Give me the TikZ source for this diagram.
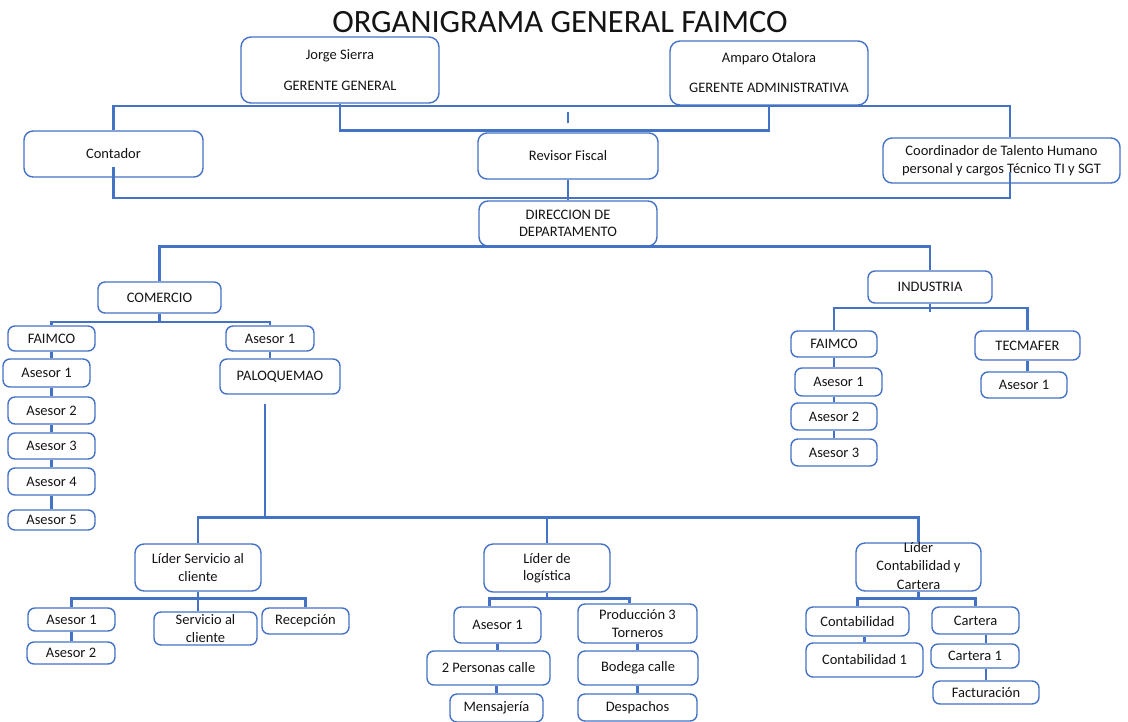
\documentclass[tikz,border=0pt]{standalone}
\usepackage{fontspec}
\setmainfont{Carlito}
\definecolor{azul}{RGB}{68,114,196}
\definecolor{texto}{RGB}{20,20,20}
\begin{document}
\begin{tikzpicture}[x=1pt,y=-1pt,
    caja/.style={draw=azul,line width=1.4pt,rounded corners=7pt,align=center,inner sep=0pt,text=texto,font=\fontsize{14.5}{17.5}\selectfont},
    link/.style={draw=azul,line width=2.9pt},
    sublink/.style={draw=azul,line width=2.2pt}]
\useasboundingbox (0,0) rectangle (1128,721);
\node[text=texto,font=\fontsize{32.5}{36}\selectfont,anchor=base] (titulo) at (560,32) {ORGANIGRAMA GENERAL FAIMCO};

% gerencia
        \node[caja,minimum width=198,minimum height=66,rounded corners=10pt] (jorge) at (340,70) {Jorge Sierra\\[14pt]GERENTE GENERAL};
        \node[caja,minimum width=198,minimum height=64,rounded corners=10pt] (amparo) at (769,73) {Amparo Otalora\\[12.5pt]GERENTE ADMINISTRATIVA};
        \node[caja,minimum width=179,minimum height=46,rounded corners=9pt] (contador) at (113.5,154) {Contador};
        \node[caja,minimum width=180,minimum height=46,rounded corners=9pt] (revisor) at (568,156) {Revisor Fiscal};
        \node[caja,minimum width=237,minimum height=45,rounded corners=9pt] (coord) at (1001.5,160.5) {Coordinador de Talento Humano\\personal y cargos Técnico TI y SGT};
        \node[caja,minimum width=178,minimum height=45,rounded corners=9pt] (direccion) at (568,223.5) {DIRECCION DE\\DEPARTAMENTO};
        \coordinate (derTop) at (1010,106);
        \coordinate (derLow) at (1010,198);
        \draw [link] (contador.north) |- (derTop) -- (derTop |- coord.north);
        \draw [link] (jorge.south) -- ++(0,27) -| (amparo.south);
        \draw [link] ([yshift=9pt]revisor.north) -- ([yshift=20pt]revisor.north);
        \draw [link] ([yshift=-13pt]contador.center) |- (derLow) -- ++(0,-26);
        \draw [link] (revisor.south) -- (direccion.north);

% comercio
        \node[caja,minimum width=123,minimum height=31] (comercio) at (159.5,297.5) {COMERCIO};
        \node[caja,minimum width=87,minimum height=25] (faimcoC) at (51.5,338.5) {FAIMCO};
        \node[caja,minimum width=88,minimum height=25] (asesorC) at (270,338.5) {Asesor 1};
        \node[caja,minimum width=120,minimum height=35] (paloquemao) at (280,376.5) {PALOQUEMAO};
        \node[caja,minimum width=87,minimum height=28] (ac1) at (46.5,373) {Asesor 1};
        \node[caja,minimum width=87,minimum height=27] (ac2) at (51.5,410.5) {Asesor 2};
        \node[caja,minimum width=87,minimum height=26] (ac3) at (51.5,446) {Asesor 3};
        \node[caja,minimum width=87,minimum height=27] (ac4) at (51.5,481.5) {Asesor 4};
        \node[caja,minimum width=87,minimum height=20] (ac5) at (51.5,520) {Asesor 5};
        \draw [sublink] (comercio.south) -- ++(0,8) coordinate (comBus);
        \draw [sublink] (faimcoC.north) |- (comBus) -| (asesorC.north);
        \draw [sublink] (asesorC.south) -- (asesorC.south |- paloquemao.north);
        \foreach \a/\b in {faimcoC/ac1,ac1/ac2,ac2/ac3,ac3/ac4,ac4/ac5}
          \draw [sublink] (\a.south -| faimcoC) -- (\b.north -| faimcoC);

% industria
        \node[caja,minimum width=124,minimum height=32] (industria) at (930,287) {INDUSTRIA};
        \node[caja,minimum width=86,minimum height=26] (faimcoI) at (834,344) {FAIMCO};
        \node[caja,minimum width=105,minimum height=29] (tecmafer) at (1027.5,345.5) {TECMAFER};
        \node[caja,minimum width=86,minimum height=26] (atec) at (1024,385) {Asesor 1};
        \node[caja,minimum width=87,minimum height=28] (ai1) at (838.5,382) {Asesor 1};
        \node[caja,minimum width=86,minimum height=27] (ai2) at (834,416.5) {Asesor 2};
        \node[caja,minimum width=86,minimum height=27] (ai3) at (834,452.5) {Asesor 3};
        \draw [link] (comercio.north) |- (direccion.south) -| (industria.north);
        \draw [sublink] (industria.south) -- ++(0,8);
        \draw [sublink] (faimcoI.north) |- ([yshift=-4pt]industria.south) -| (tecmafer.north);
        \foreach \a/\b in {faimcoI/ai1,ai1/ai2,ai2/ai3}
          \draw [sublink] (\a.south -| faimcoI) -- (\b.north -| faimcoI);
        \draw [sublink] (tecmafer.south) -- (tecmafer.south |- atec.north);

% lideres
        \node[caja,minimum width=126,minimum height=47,rounded corners=9pt] (liderSC) at (198,567.5) {Líder Servicio al\\cliente};
        \node[caja,minimum width=126,minimum height=48,rounded corners=9pt] (liderLog) at (547,568) {Líder de\\logística};
        \node[caja,minimum width=125,minimum height=48,rounded corners=9pt] (liderCC) at (918.5,567) {\smash{\raisebox{-4pt}{\begin{tabular}{@{}c@{}}Líder\\[1pt]Contabilidad y\\[1pt]Cartera\end{tabular}}}};
        \coordinate (palo) at ([xshift=-15pt,yshift=-9pt]paloquemao.south);
        \draw [link] (palo) -- ++(0,114) coordinate (mainBus);
        \draw [link] (liderSC.north) |- (mainBus) -| (liderCC.north);
        \draw [link] (mainBus -| liderLog.north) -- (liderLog.north);

% servicio al cliente
        \node[caja,minimum width=87,minimum height=23] (scA1) at (71.5,619.5) {Asesor 1};
        \node[caja,minimum width=88,minimum height=22] (scA2) at (71,653) {Asesor 2};
        \node[caja,minimum width=103,minimum height=33] (servicio) at (205.5,628.5) {Servicio al\\cliente};
        \node[caja,minimum width=87,minimum height=26] (recepcion) at (305.5,621) {Recepción};
        \draw [link] (liderSC.south) -- ++(0,7) coordinate (scBus);
        \draw [link] (scA1.north) |- (scBus) -| (recepcion.north);
        \draw [link] (scBus) -- (scBus |- servicio.north);
        \draw [sublink] (scA1.south) -- (scA1.south |- scA2.north);

% logistica
        \node[caja,minimum width=87,minimum height=36] (logA1) at (497.5,625) {Asesor 1};
        \node[caja,minimum width=119,minimum height=39] (produccion) at (637.5,623.5) {Producción 3\\Torneros};
        \node[caja,minimum width=123,minimum height=34] (personas) at (488.5,668) {2 Personas calle};
        \node[caja,minimum width=120,minimum height=34] (bodega) at (638,668) {Bodega calle};
        \node[caja,minimum width=93,minimum height=28] (mensajeria) at (496.5,708) {Mensajería};
        \node[caja,minimum width=119,minimum height=27] (despachos) at (637.5,707.5) {Despachos};
        \draw [link] (liderLog.south) -- ++(0,6) coordinate (logBus);
        \draw [link] ([xshift=-8pt]logA1.north) |- (logBus) -| ([xshift=-8pt]produccion.north);
        \draw [sublink] (logA1.south) -- (logA1.south |- personas.north);
        \draw [sublink] (personas.south -| mensajeria) -- (mensajeria.north);
        \draw [sublink] (produccion.south) -- (produccion.south |- bodega.north);
        \draw [sublink] (bodega.south -| produccion) -- (produccion |- despachos.north);

% contabilidad
        \node[caja,minimum width=103,minimum height=29] (contab) at (857.5,621.5) {Contabilidad};
        \node[caja,minimum width=117,minimum height=34] (contab1) at (864.5,660) {Contabilidad 1};
        \node[caja,minimum width=87,minimum height=27] (cartera) at (975.5,620.5) {Cartera};
        \node[caja,minimum width=88,minimum height=24] (cartera1) at (975,656) {Cartera 1};
        \node[caja,minimum width=106,minimum height=23] (facturacion) at (986,692.5) {Facturación};
        \draw [link] (liderCC.south) -- ++(0,7) coordinate (ccBus);
        \draw [link] (contab.north) |- (ccBus) -| (cartera.north);
        \draw [sublink] (contab.south -| contab1) -- (contab1.north);
        \draw [sublink] (cartera.south -| facturacion) -- (cartera1.north -| facturacion);
        \draw [sublink] (cartera1.south -| facturacion) -- (facturacion.north);
    \end{tikzpicture}
\end{document}
